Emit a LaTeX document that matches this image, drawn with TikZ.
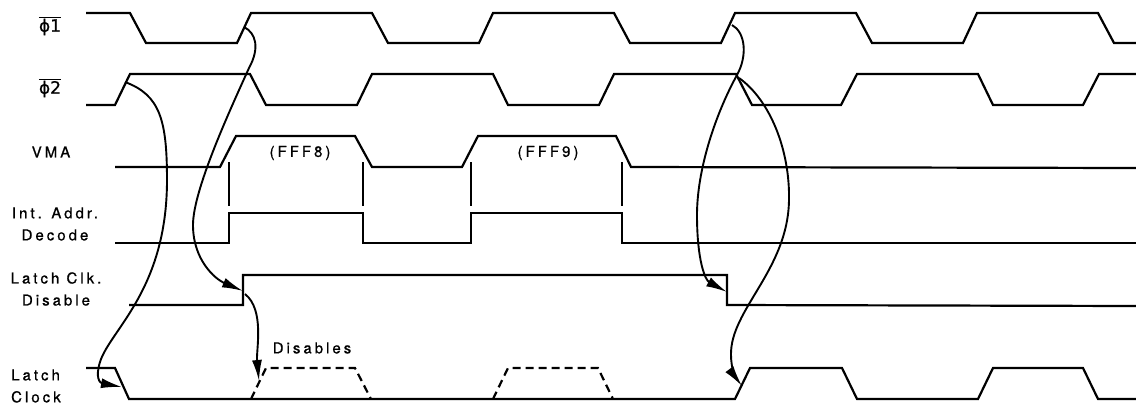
\documentclass[tikz,border=0pt]{standalone}
\usepackage{fontspec}
\usepackage{tikz}
\usetikzlibrary{arrows.meta}
\newfontfamily\lblfont{TeX Gyre Heros}[LetterSpace=20,FakeBold=0.8]
\newfontfamily\phifont{DejaVu Sans}[FakeBold=0.8]
\tikzset{
  wave/.style={line width=2.2pt, line join=miter},
  ghost/.style={wave, dash pattern=on 8pt off 5pt},
  tick/.style={line width=2.2pt},
  lbl/.style={font=\lblfont\fontsize{15}{22}\selectfont, inner sep=0pt},
  cause/.style={line width=1.9pt, -{Latex[length=21pt,width=10pt]}}
}
\newcommand{\ovphi}[1]{$\overline{\hbox{\phifont\fontsize{17}{18}\selectfont ϕ#1}}$}
\begin{document}
\begin{tikzpicture}[x=1pt,y=-1pt]
\useasboundingbox (0,0) rectangle (1136,405);
% signal names
\node[lbl] (nphi1) at (50,26) {\ovphi{1}};
\node[lbl] (nphi2) at (50,88) {\ovphi{2}};
\node[lbl] (nvma) at (51,152) {VMA};
\node[lbl, align=center] (ndec) at (55,224) {Int. Addr.\\Decode};
\node[lbl, align=center] (ndis) at (56,289) {Latch Clk.\\Disable};
\node[lbl, align=left, anchor=west] (nclk) at (11,386) {Latch\\Clock};
% clocks
\draw[wave] (86,13) -- (130,13) -- (146,43) -- (237,43) -- (251,13) -- (372,13) -- (388,43) -- (479,43) -- (493,13) -- (614,13) -- (630,43) -- (721,43) -- (735,13) -- (856,13) -- (872,43) -- (963,43) -- (977,13) -- (1098,13) -- (1114,43) -- (1136,43);
\draw[wave] (86,105) -- (115,105) -- (130,74) -- (250,74) -- (266,105) -- (357,105) -- (372,74) -- (493,74) -- (508,105) -- (599,105) -- (614,74) -- (736,74) -- (752,105) -- (841,105) -- (857,74) -- (978,74) -- (993,105) -- (1083,105) -- (1099,74) -- (1136,74);
% VMA
\draw[wave] (115,167) -- (220,167) -- (236,136) -- (355,136) -- (372,167) -- (462,167) -- (478,136) -- (616,136) -- (631,167) -- (1136,168);
\node[lbl] (naddr8) at (300,153) {(FFF8)};
\node[lbl] (naddr9) at (548,153) {(FFF9)};
\draw[tick] (229,162) -- (229,206);
\draw[tick] (363,162) -- (363,206);
\draw[tick] (471,162) -- (471,206);
\draw[tick] (622,162) -- (622,206);
% decode
\draw[wave] (115,243) -- (229,243) -- (229,213) -- (363,213) -- (363,243) -- (471,243) -- (471,213) -- (622,213) -- (622,243) -- (1136,243);
% latch clk disable
\draw[wave] (129,305) -- (243,305) -- (243,275) -- (727,275) -- (727,305) -- (1136,306);
% latch clock
\draw[wave] (86,368) -- (115,368) -- (129,399) -- (735,399) -- (750,368) -- (842,368) -- (857,399) -- (978,399) -- (993,368) -- (1083,368) -- (1098,399) -- (1136,399);
\draw[ghost] (251,399) -- (266,368) -- (355,368) -- (371,399);
\draw[ghost] (493,399) -- (508,368) -- (598,368) -- (613,399);
\node[lbl] (ndisables) at (312,348) {Disables};
% edge points
\coordinate (p2up) at (125,82);
\coordinate (clkdn) at (122,387);
\coordinate (p1up) at (244,27);
\coordinate (disup) at (243,291);
\coordinate (disupb) at (245,294);
\coordinate (clkgh) at (259,381);
\coordinate (p1upb) at (732,25);
\coordinate (disdn) at (727,292);
\coordinate (p2dn) at (739,78);
\coordinate (clkup) at (742,386);
% cause arrows
\draw[cause] (p2up) .. controls (160,95) and (167,120) .. (167,180) .. controls (167,290) and (110,330) .. (100,362) .. controls (95,378) and (100,383) .. (clkdn);
\draw[cause] (p1up) .. controls (256,33) and (260,48) .. (249,68) .. controls (230,110) and (193,190) .. (193,225) .. controls (193,260) and (215,279) .. (disup);
\draw[cause] (disupb) .. controls (265,310) and (256,350) .. (clkgh);
\draw[cause] (p1upb) .. controls (745,32) and (748,55) .. (737,75) .. controls (715,115) and (697,170) .. (697,215) .. controls (697,260) and (705,280) .. (disdn);
\draw[cause] (p2dn) .. controls (770,100) and (790,150) .. (789,200) .. controls (788,270) and (730,310) .. (731,355) .. controls (731,368) and (736,378) .. (clkup);
\end{tikzpicture}
\end{document}
